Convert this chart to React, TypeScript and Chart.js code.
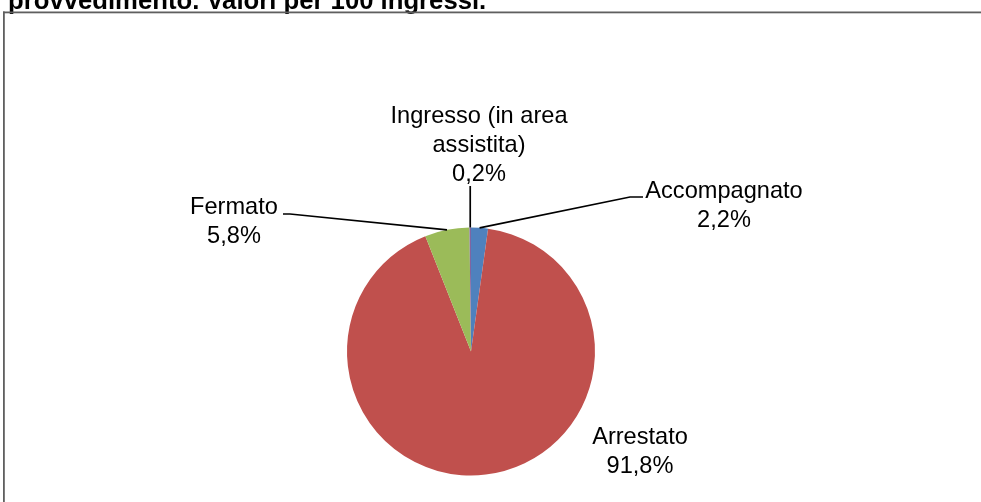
import React, { useEffect, useRef } from "react";
import { Chart, registerables } from "chart.js";

Chart.register(...registerables);

const titleText = "provvedimento. Valori per 100 ingressi.";
const categories = ["Accompagnato", "Arrestato", "Fermato", "Ingresso (in area assistita)"];
const categoryLines = [["Accompagnato"], ["Arrestato"], ["Fermato"], ["Ingresso (in area", "assistita)"]];
const values = [2.2, 91.8, 5.8, 0.2];
const colors = ["#4F81BD", "#C0504D", "#9BBB59", "#8064A2"];

// label layout, relative to pie centre
type LabelLayout = { tx: number; ty: number; elbow?: [number, number]; end?: [number, number]; vertical?: number };
const labelLayout: LabelLayout[] = [
  { tx: 253, ty: -153.5, elbow: [159, -154.5], end: [172, -154.5] },
  { tx: 169, ty: 92.5 },
  { tx: -237, ty: -137.5, elbow: [-181, -137.5], end: [-188, -137.5] },
  { tx: 8, ty: -228.5, vertical: -165.5 },
];

const FONT = '23.6px "Liberation Sans", Arial, sans-serif';
const LINE_H = 28.8;

const fmt = (v: number) => v.toFixed(1).replace(".", ",") + "%";

const decorPlugin = {
  id: "decor",
  beforeDraw(chart: any) {
    const ctx = chart.ctx as CanvasRenderingContext2D;
    ctx.save();
    ctx.fillStyle = "#ffffff";
    ctx.fillRect(0, 0, chart.width, chart.height);
    // title (cut at top)
    ctx.fillStyle = "#000000";
    ctx.font = 'bold 25.7px "Liberation Sans", Arial, sans-serif';
    ctx.textAlign = "left";
    ctx.textBaseline = "alphabetic";
    ctx.fillText(titleText, 8, 9);
    // frame
    ctx.fillStyle = "#5f5f5f";
    ctx.fillRect(3, 11.5, chart.width - 3, 1.8);
    ctx.fillRect(3, 11.5, 1.8, chart.height - 11.5);
    ctx.restore();
  },
  afterDraw(chart: any) {
    const ctx = chart.ctx as CanvasRenderingContext2D;
    const meta = chart.getDatasetMeta(0);
    ctx.save();
    ctx.font = FONT;
    ctx.fillStyle = "#000000";
    ctx.strokeStyle = "#000000";
    ctx.lineWidth = 1.7;
    ctx.textAlign = "center";
    ctx.textBaseline = "alphabetic";
    meta.data.forEach((arc: any, i: number) => {
      const p = arc.getProps(["x", "y", "startAngle", "endAngle", "outerRadius"], true);
      const cx = p.x;
      const cy = p.y;
      const mid = (p.startAngle + p.endAngle) / 2;
      const ax = cx + Math.cos(mid) * p.outerRadius;
      const ay = cy + Math.sin(mid) * p.outerRadius;
      const L = labelLayout[i];
      if (L.elbow && L.end) {
        ctx.beginPath();
        ctx.moveTo(ax, ay);
        ctx.lineTo(cx + L.elbow[0], cy + L.elbow[1]);
        ctx.lineTo(cx + L.end[0], cy + L.end[1]);
        ctx.stroke();
      } else if (L.vertical !== undefined) {
        ctx.beginPath();
        ctx.moveTo(ax, ay);
        ctx.lineTo(ax, cy + L.vertical);
        ctx.stroke();
      }
      const lines = [...categoryLines[i], fmt(values[i])];
      lines.forEach((t, k) => {
        ctx.fillText(t, cx + L.tx, cy + L.ty + k * LINE_H);
      });
    });
    ctx.restore();
  },
};

export default function App() {
  const ref = useRef<HTMLCanvasElement>(null);
  useEffect(() => {
    if (!ref.current) return;
    const chart = new Chart(ref.current, {
      type: "pie",
      data: {
        labels: categories,
        datasets: [
          {
            data: values,
            backgroundColor: colors,
            borderWidth: 0,
          },
        ],
      },
      options: {
        responsive: false,
        animation: false,
        devicePixelRatio: 1,
        layout: { padding: { left: 347, right: 386, top: 227.5, bottom: 26.5 } },
        plugins: {
          legend: { display: false },
          tooltip: { enabled: false },
          title: { display: false },
        },
      },
      plugins: [decorPlugin],
    });
    return () => chart.destroy();
  }, []);
  return (
    <div style={{ position: "absolute", left: 0, top: 0, width: 981, height: 502, background: "#fff" }}>
      <canvas ref={ref} width={981} height={502} style={{ display: "block", width: 981, height: 502 }} />
    </div>
  );
}
